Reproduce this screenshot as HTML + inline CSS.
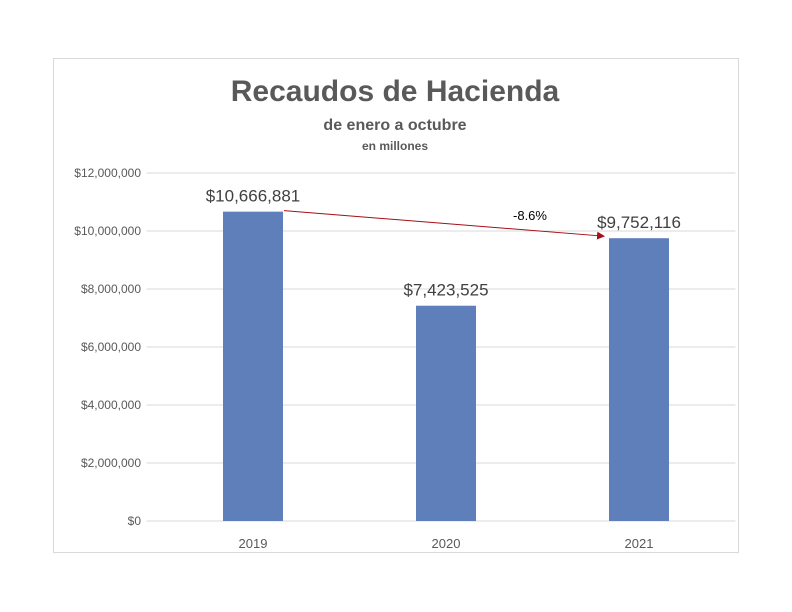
<!DOCTYPE html>
<html><head><meta charset="utf-8"><style>
body{margin:0;background:#fff;}
svg{font-family:"Liberation Sans",sans-serif;display:block;}
</style></head><body>
<svg id="chart" width="792" height="612" viewBox="0 0 792 612">
<rect x="53.5" y="58.5" width="685" height="494" fill="#fff" stroke="#d9d9d9"/>
<text x="395" y="101" text-anchor="middle" font-size="30" font-weight="bold" fill="#595959">Recaudos de Hacienda</text>
<text x="395" y="130" text-anchor="middle" font-size="16" font-weight="bold" fill="#595959">de enero a octubre</text>
<text x="395" y="150" text-anchor="middle" font-size="12" font-weight="bold" fill="#595959">en millones</text>
<g id="grid"></g><g id="bars"></g><g id="labels"></g>
<defs><marker id="ah" markerWidth="8" markerHeight="8" refX="7" refY="4" orient="auto"><path d="M0,0 L8,4 L0,8 z" fill="#a50f15"/></marker></defs>
<g id="anno"></g>
</svg>
<script>
const categories=["2019","2020","2021"];
const values=[10666881,7423525,9752116];
const valueLabels=["$10,666,881","$7,423,525","$9,752,116"];
const yTicks=[0,2000000,4000000,6000000,8000000,10000000,12000000];
const yTickLabels=["$0","$2,000,000","$4,000,000","$6,000,000","$8,000,000","$10,000,000","$12,000,000"];
const changeLabel="-8.6%";
const NS="http://www.w3.org/2000/svg";
const y0=521,y1=173,xL=156.5,xR=735.5,bw=60;
const y=v=>y0-(v/12000000)*(y0-y1);
const step=(xR-xL)/categories.length;
const xc=i=>xL+step*(i+0.5);
function mk(t,a,p){const e=document.createElementNS(NS,t);for(const k in a)e.setAttribute(k,a[k]);p.appendChild(e);return e;}
const g=document.getElementById('grid');
yTicks.forEach((t,i)=>{
 const l=mk('line',{x1:xL-10,x2:xR,y1:y(t),y2:y(t),stroke:'#d9d9d9','stroke-width':1},g);
 
 
 const tx=mk('text',{x:141,y:y(t)+4,'text-anchor':'end','font-size':12,fill:'#595959'},g);
 tx.textContent=yTickLabels[i];
 
 
});
const b=document.getElementById('bars'),lb=document.getElementById('labels');
categories.forEach((c,i)=>{
 const r=mk('rect',{x:xc(i)-bw/2,y:y(values[i]),width:bw,height:y0-y(values[i]),fill:'#5f7fba'},b);
 
 
 const t=mk('text',{x:xc(i),y:y(values[i])-10,'text-anchor':'middle','font-size':17,fill:'#404040'},lb);
 t.textContent=valueLabels[i];
 
 
 const xt=mk('text',{x:xc(i),y:548,'text-anchor':'middle','font-size':13,fill:'#595959'},lb);
 xt.textContent=c;
 
 
});
const a=document.getElementById('anno');
const ln=mk('line',{x1:xc(0)+bw/2+1,y1:y(values[0])-1,x2:xc(2)-bw/2-5,y2:y(values[2])-2,stroke:'#a50f15','stroke-width':1,'marker-end':'url(#ah)'},a);


const ct=mk('text',{x:530,y:220,'text-anchor':'middle','font-size':13,fill:'#000'},a);
ct.textContent=changeLabel;


</script>
</body></html>
